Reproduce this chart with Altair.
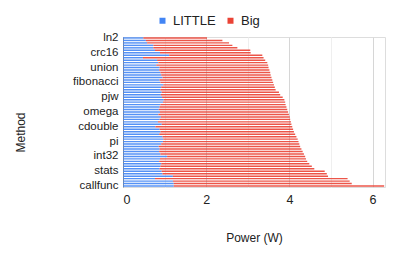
import altair as alt
import pandas as pd

methods = ["ln2", "bitcnt", "sha", "md5", "qsort", "heapsort", "crc16", "crc32", "matmul", "sieve",
           "strlen", "memcpy", "union", "struct", "ackermann", "hanoi", "queens", "primes", "fibonacci", "factorial",
           "gcd", "lcm", "popcount", "isqrt", "pjw", "elf", "djb2", "fnv1a", "adler32", "murmur",
           "omega", "sigma", "phi", "tau", "mandel", "julia", "cdouble", "cfloat", "dot", "axpy",
           "norm", "sqrt", "pi", "exp", "log", "sin", "cos", "atan", "int32", "int64",
           "int16", "int8", "uint32", "uint64", "stats", "mean", "median", "stddev", "recurse", "loop",
           "callfunc"]

little = [0.49, 0.55, 0.58, 0.73, 0.73, 0.77, 0.89, 1.11, 0.48, 0.82,
          0.85, 0.80, 0.88, 0.87, 0.90, 0.92, 0.95, 0.88, 0.90, 0.97,
          0.92, 0.90, 0.93, 0.91, 0.94, 0.98, 0.96, 0.90, 0.88, 0.86,
          0.89, 0.85, 0.91, 0.88, 0.84, 0.93, 0.78, 0.88, 0.90, 0.87,
          0.95, 0.97, 0.96, 0.92, 0.86, 0.88, 0.87, 0.90, 1.06, 0.89,
          0.87, 0.92, 0.90, 0.88, 0.93, 0.95, 1.20, 0.77, 1.20, 1.22,
          1.22]

total = [2.02, 2.39, 2.55, 2.63, 2.75, 3.06, 3.07, 3.35, 3.38, 3.42,
         3.47, 3.49, 3.50, 3.52, 3.54, 3.55, 3.57, 3.59, 3.61, 3.63,
         3.65, 3.67, 3.75, 3.78, 3.84, 3.88, 3.90, 3.91, 3.93, 3.95,
         3.97, 3.99, 4.01, 4.02, 4.04, 4.05, 4.07, 4.09, 4.11, 4.14,
         4.17, 4.20, 4.22, 4.24, 4.26, 4.29, 4.32, 4.35, 4.38, 4.40,
         4.43, 4.48, 4.54, 4.60, 4.85, 4.90, 4.93, 5.40, 5.45, 5.50,
         6.28]

shown_labels = ["ln2", "crc16", "union", "fibonacci", "pjw", "omega", "cdouble", "pi", "int32", "stats", "callfunc"]
series = ["LITTLE", "Big"]
colors = ["#4285F4", "#EA4335"]
x_ticks = [0, 1, 2, 3, 4, 5, 6]

rows = []
for m, l, t in zip(methods, little, total):
    rows.append({"Method": m, "Core": "LITTLE", "Power": l, "ord": 0})
    rows.append({"Method": m, "Core": "Big", "Power": round(t - l, 3), "ord": 1})
df = pd.DataFrame(rows)

FONT = "Liberation Sans"

chart = alt.Chart(df).mark_bar(opacity=0.9).encode(
    y=alt.Y("Method:N", sort=methods,
            scale=alt.Scale(paddingInner=0.42, paddingOuter=0.1),
            axis=alt.Axis(values=shown_labels, ticks=False, domain=False, grid=False,
                          labelFontSize=11.5, labelColor="#222", labelPadding=5,
                          title="Method", titleFontSize=12, titleFontWeight="normal",
                          titleColor="#222", titleX=-103, titleY=95, titleAngle=-90,
                          titleAlign="center", titleBaseline="middle")),
    x=alt.X("Power:Q", stack="zero",
            scale=alt.Scale(domain=[0, 6.3], nice=False, zero=True),
            axis=alt.Axis(values=x_ticks,
                          labelExpr="datum.value % 2 == 0 ? datum.label : ''",
                          ticks=False, domain=False, grid=True,
                          gridColor={"condition": [
                              {"test": "datum.value === 0", "value": "#888888"},
                              {"test": "datum.value % 2 === 0", "value": "#d6d6d6"}],
                              "value": "#efefef"},
                          gridWidth=1,
                          labelFontSize=12.5, labelColor="#222", labelPadding=6,
                          title="Power (W)", titleFontSize=12, titleFontWeight="normal",
                          titleColor="#222", titleY=50, titleBaseline="middle")),
    color=alt.Color("Core:N", scale=alt.Scale(domain=series, range=colors),
                    legend=alt.Legend(orient="none", legendX=33, legendY=-23,
                                      direction="horizontal", title=None,
                                      symbolType="square", symbolSize=36, symbolOpacity=1,
                                      labelFontSize=13, labelColor="#222",
                                      columnPadding=8, labelOffset=4)),
    order=alt.Order("ord:Q"),
).properties(
    width=262, height=150,
    autosize=alt.AutoSizeParams(type="none"),
    padding={"left": 115, "top": 29, "right": 14, "bottom": 61},
).configure_view(stroke=None).configure(font=FONT)

chart.save("out.html", embed_options={"renderer": "svg", "actions": False})
